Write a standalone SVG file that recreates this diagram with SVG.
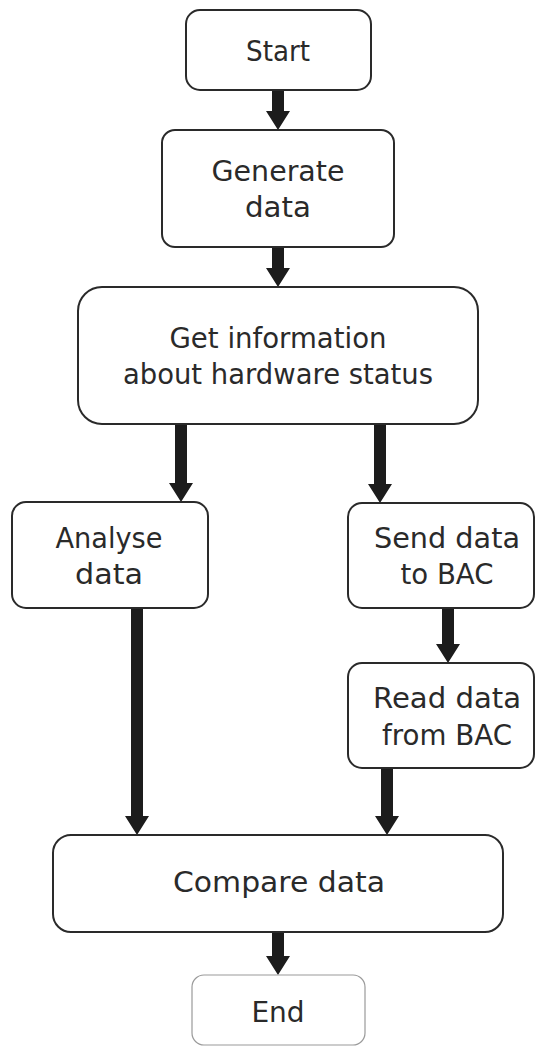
<svg xmlns="http://www.w3.org/2000/svg" width="536" height="1046" viewBox="0 0 536 1046">
<style>
.box{fill:#fff;stroke:#2a2a2a;stroke-width:2}
.end{fill:#fff;stroke:#9a9a9a;stroke-width:1.2}
.t{font-family:"DejaVu Sans","Liberation Sans",sans-serif;font-size:28px;fill:#2a2a2a;text-anchor:middle}
.arr{fill:#1c1c1c}
</style>
<rect width="536" height="1046" fill="#fff"/>
<g id="connectors">
<polygon class="arr" points="272,90 284,90 284,111 290,111 278,130 266,111 272,111"/>
<polygon class="arr" points="272,247 284,247 284,268 290,268 278,287 266,268 272,268"/>
<polygon class="arr" points="175,424 187,424 187,483 193,483 181,502 169,483 175,483"/>
<polygon class="arr" points="374,424 386,424 386,484 392,484 380,503 368,484 374,484"/>
<polygon class="arr" points="442,608 454,608 454,644 460,644 448,663 436,644 442,644"/>
<polygon class="arr" points="131,608 143,608 143,816 149,816 137,835 125,816 131,816"/>
<polygon class="arr" points="381,768 393,768 393,816 399,816 387,835 375,816 381,816"/>
<polygon class="arr" points="272,932 284,932 284,956 290,956 278,975 266,956 272,956"/>
</g>
<g id="start">
<rect class="box" x="186" y="10" width="185" height="80" rx="14"/>
<text class="t" x="278" y="61" textLength="64" lengthAdjust="spacingAndGlyphs">Start</text>
</g>
<g id="generate">
<rect class="box" x="162" y="130" width="232" height="117" rx="13"/>
<text class="t" x="278" y="181" textLength="133" lengthAdjust="spacingAndGlyphs">Generate</text>
<text class="t" x="278" y="217" textLength="66" lengthAdjust="spacingAndGlyphs">data</text>
</g>
<g id="getinfo">
<rect class="box" x="78" y="287" width="400" height="137" rx="24"/>
<text class="t" x="278" y="348" textLength="217" lengthAdjust="spacingAndGlyphs">Get information</text>
<text class="t" x="278" y="384" textLength="310" lengthAdjust="spacingAndGlyphs">about hardware status</text>
</g>
<g id="analyse">
<rect class="box" x="12" y="502" width="196" height="106" rx="14"/>
<text class="t" x="109" y="548" textLength="107" lengthAdjust="spacingAndGlyphs">Analyse</text>
<text class="t" x="109" y="584" textLength="68" lengthAdjust="spacingAndGlyphs">data</text>
</g>
<g id="send">
<rect class="box" x="348" y="503" width="186" height="105" rx="14"/>
<text class="t" x="447" y="548" textLength="146" lengthAdjust="spacingAndGlyphs">Send data</text>
<text class="t" x="447" y="584" textLength="93" lengthAdjust="spacingAndGlyphs">to BAC</text>
</g>
<g id="read">
<rect class="box" x="348" y="663" width="186" height="105" rx="14"/>
<text class="t" x="447" y="708" textLength="148" lengthAdjust="spacingAndGlyphs">Read data</text>
<text class="t" x="447" y="745" textLength="130" lengthAdjust="spacingAndGlyphs">from BAC</text>
</g>
<g id="compare">
<rect class="box" x="53" y="835" width="450" height="97" rx="18"/>
<text class="t" x="279" y="892" textLength="212" lengthAdjust="spacingAndGlyphs">Compare data</text>
</g>
<g id="end">
<rect class="end" x="192" y="975" width="173" height="70" rx="12"/>
<text class="t" x="278" y="1022">End</text>
</g>
</svg>
